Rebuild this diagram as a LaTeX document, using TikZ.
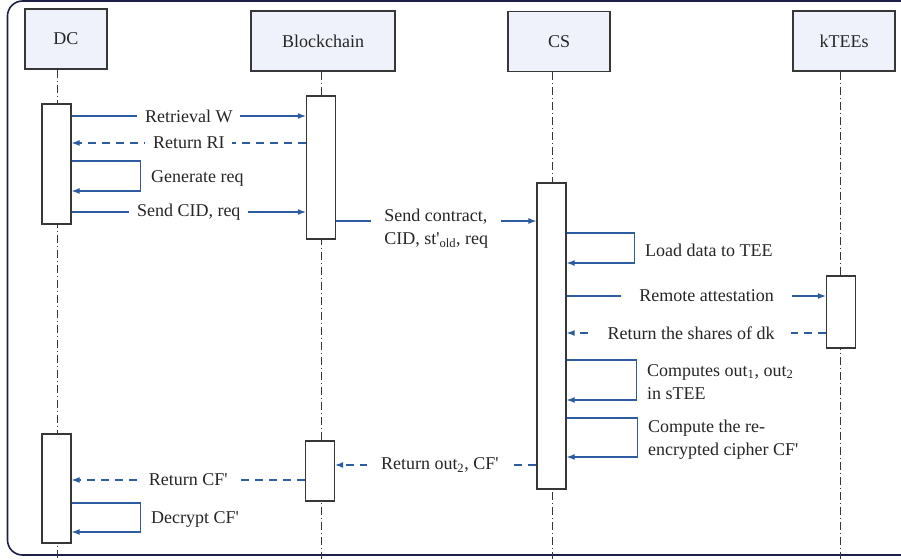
\documentclass[tikz,border=0pt]{standalone}
\usepackage{fontspec}
\setmainfont{Liberation Serif}
\usetikzlibrary{arrows.meta,positioning,calc}
\definecolor{msgblue}{RGB}{46,92,160}
\definecolor{framenavy}{RGB}{28,32,72}
\definecolor{headfill}{RGB}{239,242,250}
\definecolor{boxgray}{RGB}{55,55,55}

\begin{document}
\begin{tikzpicture}[x=1pt,y=-1pt,
  every node/.style={font=\fontsize{18}{23}\selectfont, text=black!85},
  headbox/.style={draw=boxgray, line width=1.3, fill=headfill, minimum height=60, inner sep=0},
  actbox/.style={draw=boxgray, line width=1.3, fill=white, minimum width=29, inner sep=0},
  lifeline/.style={boxgray, line width=0.9, dash pattern=on 8pt off 3pt on 1pt off 3pt},
  msg/.style={msgblue, line width=1.1, -{Latex[length=8pt,width=6pt]}},
  reply/.style={msg, dash pattern=on 8pt off 6pt},
  lbl/.style={fill=white, inner xsep=8, inner ysep=1},
  looplbl/.style={anchor=west, inner sep=0, xshift=10, yshift=-2, align=left}]
  \useasboundingbox (0,0) rectangle (901,559); % 画像の範囲
  \draw[framenavy, line width=1.6, rounded corners=15] (7.5,1) rectangle (940,555); % 外枠

  % 参加者の箱
  \node[headbox, minimum width=82] (dc) at (66,39) {DC};
  \node[headbox, minimum width=144] (bc) at (323,41) {Blockchain};
  \node[headbox, minimum width=102] (cs) at (559,41.5) {CS};
  \node[headbox, minimum width=102] (kt) at (844,41) {kTEEs};

  % ライフライン
  \draw[lifeline] (dc.south -| 57,0) -- (57,559);
  \draw[lifeline] (bc.south -| 321,0) -- (321,559);
  \draw[lifeline] (cs.south -| 552,0) -- (552,559);
  \draw[lifeline] (kt.south -| 840,0) -- (840,559);

  % 活性化の箱
  \node[actbox, minimum height=120] (dcA) at (56.5,164) {};
  \node[actbox, minimum height=109] (dcB) at (56.5,488.5) {};
  \node[actbox, minimum height=143] (bcA) at (321,167.5) {};
  \node[actbox, minimum height=60] (bcB) at (320,471) {};
  \node[actbox, minimum height=306] (csA) at (551.5,336) {};
  \node[actbox, minimum height=72] (ktA) at (841,312) {};

  % メッセージ
  \draw[msg] (dcA.east |- 0,116) -- node[lbl] {Retrieval W} (bcA.west |- 0,116);
  \draw[reply] (bcA.west |- 0,143) -- node[lbl] {Return RI} (dcA.east |- 0,143);
  \draw[msg] (dcA.east |- 0,161) -- ++(69,0) |- node[pos=0.25, looplbl] {Generate req} (dcA.east |- 0,191);
  \draw[msg] (dcA.east |- 0,212) -- node[lbl] {Send CID, req} (bcA.west |- 0,212);
  \draw[msg] (bcA.east |- 0,221) -- node[lbl, inner xsep=13, align=left, yshift=-8]
    {Send contract,\\CID, st\textquotesingle\textsubscript{old}, req} (csA.west |- 0,221);
  \draw[msg] (csA.east |- 0,233) -- ++(68,0) |- node[pos=0.25, looplbl] {Load data to TEE} (csA.east |- 0,263);
  \draw[msg] (csA.east |- 0,296) -- node[lbl, pos=0.54, inner xsep=18] {Remote attestation} (ktA.west |- 0,296);
  \draw[reply] (ktA.west |- 0,333) -- node[lbl, pos=0.52, inner xsep=16] {Return the shares of dk} (csA.east |- 0,333);
  \draw[msg] (csA.east |- 0,360) -- ++(70,0) |- node[pos=0.25, looplbl]
    {Computes out\textsubscript{1}, out\textsubscript{2}\\in sTEE} (csA.east |- 0,400);
  \draw[msg] (csA.east |- 0,418) -- ++(71,0) |- node[pos=0.25, looplbl]
    {Compute the re-\\encrypted cipher CF\textquotesingle} (csA.east |- 0,457);
  \draw[reply] (csA.west |- 0,465) -- node[lbl, pos=0.48, inner xsep=14] {Return out\textsubscript{2}, CF\textquotesingle} (bcB.east |- 0,465);
  \draw[reply] (bcB.west |- 0,480) -- node[lbl] {Return CF\textquotesingle} (dcB.east |- 0,480);
  \draw[msg] (dcB.east |- 0,503) -- ++(69,0) |- node[pos=0.25, looplbl] {Decrypt CF\textquotesingle} (dcB.east |- 0,532);
\end{tikzpicture}
\end{document}
